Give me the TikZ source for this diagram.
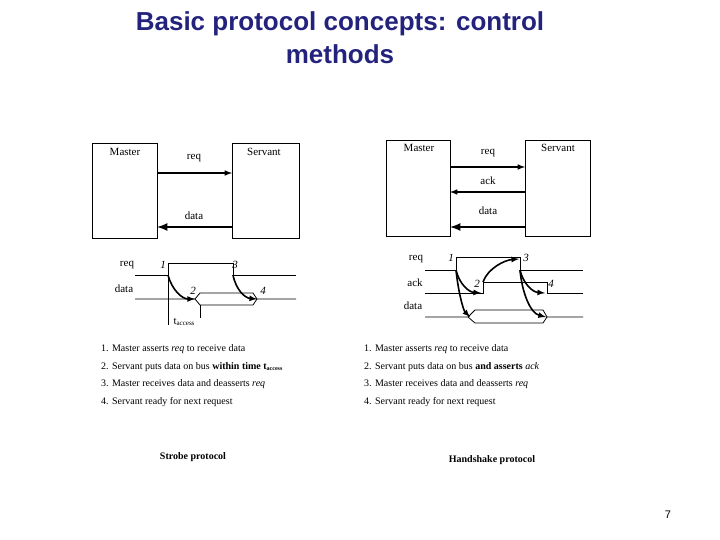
\documentclass[tikz,border=0pt]{standalone}
\usepackage{fontspec}
\setmainfont{Liberation Serif}
\newfontfamily\arialf{Liberation Sans}
\definecolor{titleblue}{RGB}{35,35,125}
\begin{document}
\begin{tikzpicture}[x=1pt,y=-1pt,
  box/.style={draw,thick,inner sep=0pt},
  lbl/.style={font=\fontsize{11}{13}\selectfont,inner sep=0pt},
  num/.style={font=\fontsize{11}{13}\selectfont\itshape,inner sep=0pt},
  sig/.style={thick},
  caus/.style={line width=1.6pt,-latex},
  item/.style={font=\fontsize{10}{12}\selectfont,inner sep=0pt,anchor=west}]
\useasboundingbox (0,0) rectangle (720,540);
\node[font=\arialf\bfseries\fontsize{26}{33}\selectfont,text=titleblue,align=center] (title) at (340,38) {Basic protocol concepts: control\\methods};
% left boxes
\draw[box] (92,143) rectangle (157,238);
\draw[box] (232,143) rectangle (299,238);
\node[lbl] (m1) at (125,152) {Master};
\node[lbl] (s1) at (264,152) {Servant};
\coordinate (m1r) at (157,173); \coordinate (s1l) at (232,173);
\coordinate (m1d) at (157,227); \coordinate (s1d) at (232,227);
\draw[line width=1.5pt,-latex] (m1r) -- (s1l);
\draw[line width=2.5pt,-latex] (s1d) -- (m1d);
\node[lbl] (lreq) at (194,158) {req};
\node[lbl] (ldata) at (194,216) {data};
% left timing
\node[lbl] (treq) at (127,265) {req};
\node[lbl] (tdata) at (124,289) {data};
\draw[sig] (135,275) -- (168,275) -- (168,263) -- (233,263) -- (233,275) -- (296,275);
\draw[sig] (135,299) -- (195,299) -- (200,293) -- (253,293) -- (257,299) -- (296,299);
\draw[sig] (195,299) -- (200,305) -- (253,305) -- (257,299);
\draw (168,275) -- (168,325); \draw (200,305) -- (200,318);
\draw[caus] (168,275) .. controls (172,290) and (182,299) .. (195,299);
\draw[caus] (233,275) .. controls (236,290) and (245,298) .. (257,299);
\node[num] (n1) at (163,265) {1};
\node[num] (n3) at (235,265) {3};
\node[num] (n2) at (193,291) {2};
\node[num] (n4) at (263,291) {4};
\node[lbl] (tacc) at (184,322) {t\raisebox{-1.5pt}{\fontsize{7}{8}\selectfont access}};
\node[item] (l1) at (101,349) {1. Master asserts \textit{req} to receive data};
\node[item] (l2) at (101,367) {2. Servant puts data on bus \textbf{within time t\raisebox{-1.5pt}{\fontsize{6}{7}\selectfont access}}};
\node[item] (l3) at (101,384) {3. Master receives data and deasserts \textit{req}};
\node[item] (l4) at (101,402) {4. Servant ready for next request};
\node[font=\bfseries\fontsize{10}{12}\selectfont] (cap1) at (193,457) {Strobe protocol};
% right boxes
\draw[box] (386,140) rectangle (450,236);
\draw[box] (525,140) rectangle (590,236);
\node[lbl] (m2) at (419,148) {Master};
\node[lbl] (s2) at (558,148) {Servant};
\coordinate (a1) at (450,167); \coordinate (b1) at (525,167);
\coordinate (a2) at (450,192); \coordinate (b2) at (525,192);
\coordinate (a3) at (450,227); \coordinate (b3) at (525,227);
\draw[line width=1.5pt,-latex] (a1) -- (b1);
\draw[line width=1.5pt,-latex] (b2) -- (a2);
\draw[line width=2.5pt,-latex] (b3) -- (a3);
\node[lbl] (rreq) at (488,153) {req};
\node[lbl] (rack) at (488,181) {ack};
\node[lbl] (rdata) at (488,211) {data};
% right timing
\node[lbl] (ureq) at (416,259) {req};
\node[lbl] (uack) at (415,283) {ack};
\node[lbl] (udata) at (413,306) {data};
\draw[sig] (425,270) -- (456,270) -- (456,257) -- (520,257) -- (520,270) -- (583,270);
\draw[sig] (425,293) -- (483,293) -- (483,282) -- (547,282) -- (547,293) -- (583,293);
\draw[sig] (425,317) -- (468,317) -- (475,310) -- (543,310) -- (547,317) -- (583,317);
\draw[sig] (468,317) -- (475,323) -- (543,323) -- (547,317);
\draw[caus] (456,270) .. controls (459,283) and (468,292) .. (481,293);
\draw[caus] (456,270) .. controls (458,290) and (463,310) .. (470,317);
\draw[caus] (483,282) .. controls (488,268) and (505,260) .. (519,259);
\draw[caus] (520,270) .. controls (523,283) and (532,292) .. (545,293);
\draw[caus] (520,270) .. controls (522,292) and (530,313) .. (546,317);
\node[num] (r1) at (451,258) {1};
\node[num] (r3) at (526,258) {3};
\node[num] (r2) at (477,284) {2};
\node[num] (r4) at (551,284) {4};
\node[item] (q1) at (364,349) {1. Master asserts \textit{req} to receive data};
\node[item] (q2) at (364,367) {2. Servant puts data on bus \textbf{and asserts} \textit{ack}};
\node[item] (q3) at (364,384) {3. Master receives data and deasserts \textit{req}};
\node[item] (q4) at (364,402) {4. Servant ready for next request};
\node[font=\bfseries\fontsize{10}{12}\selectfont] (cap2) at (492,460) {Handshake protocol};
\node[font=\arialf\fontsize{11}{13}\selectfont] (pg) at (668,515) {7};
\end{tikzpicture}
\end{document}
